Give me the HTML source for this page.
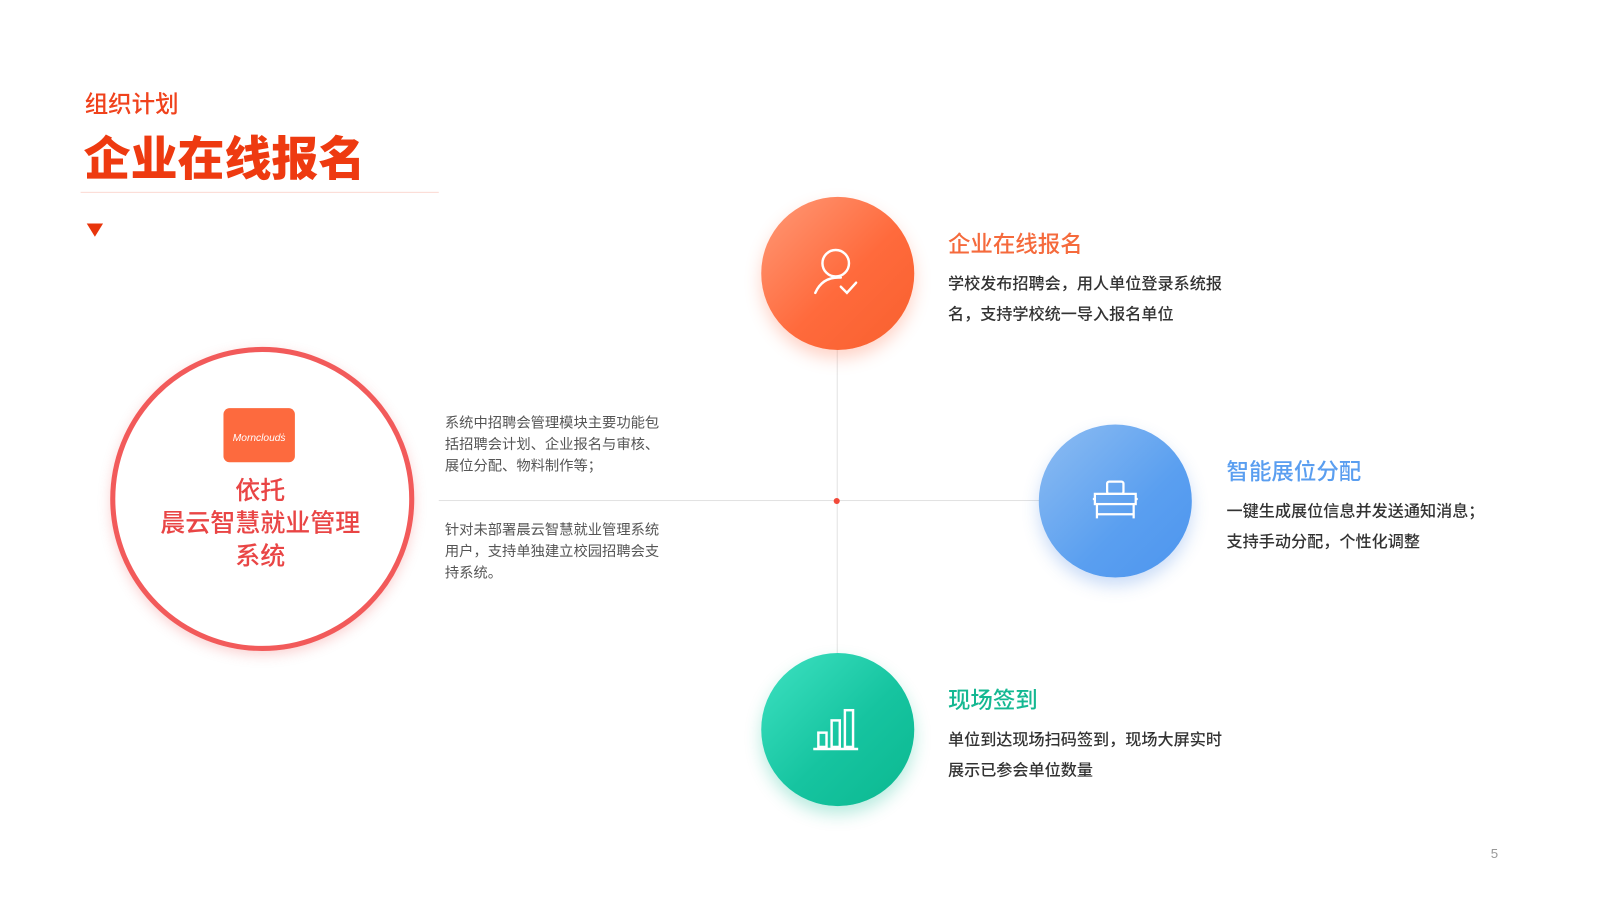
<!DOCTYPE html>
<html><head><meta charset="utf-8"><style>
body{margin:0;width:1600px;height:900px;background:#fff;position:relative;overflow:hidden;font-family:"Liberation Sans","Noto Sans CJK SC",sans-serif}
#w{position:absolute;left:0;top:0;width:1568px;height:882px;transform:scale(1.0204);transform-origin:0 0}
.a{position:absolute}
.c{position:absolute;width:150px;height:150px;border-radius:50%}
.t{position:absolute;font-size:22px;font-weight:500}
.d{position:absolute;font-size:15.8px;color:#333;line-height:30px;font-weight:500;white-space:nowrap}
.s{position:absolute;font-size:14px;color:#555;line-height:21px;width:216px}
</style></head><body><div id="w">
<div class="a" style="left:83px;top:83px;font-size:23px;color:#f0421c;font-weight:500">组织计划</div>
<div class="a" style="left:82px;top:120px;font-size:46px;font-weight:900;color:#ee3a10;letter-spacing:0px">企业在线报名</div>
<div class="a" style="left:79px;top:188px;width:351px;height:1px;background:#fbd9d2"></div>
<div class="a" style="left:85px;top:219px;width:0;height:0;border-left:8px solid transparent;border-right:8px solid transparent;border-top:13px solid #e8350c"></div>

<div class="a" style="left:430px;top:490px;width:590px;height:1px;background:#e2e2e2"></div>
<div class="a" style="left:820px;top:340px;width:1px;height:300px;background:#e2e2e2"></div>
<div class="a" style="left:817px;top:488px;width:6px;height:6px;border-radius:50%;background:#f24a3a"></div>

<div class="a" style="left:108px;top:340px;width:288px;height:288px;border-radius:50%;border:5px solid #f25a5a;box-shadow:0 4px 12px rgba(240,80,80,.25)"></div>
<div class="a" style="left:219px;top:400px;width:70px;height:53px;border-radius:6px;background:#fd6a3e;color:#fff;font-size:10px;font-style:italic;text-align:center;line-height:60px">Morncloudṡ</div>
<div class="a" style="left:135px;top:466px;width:240px;text-align:center;font-size:24.5px;line-height:32px;color:#e94545;font-weight:500">依托<br>晨云智慧就业管理<br>系统</div>

<div class="s" style="left:436px;top:404px">系统中招聘会管理模块主要功能包括招聘会计划、企业报名与审核、展位分配、物料制作等；</div>
<div class="s" style="left:436px;top:509px">针对未部署晨云智慧就业管理系统用户，支持单独建立校园招聘会支持系统。</div>

<div class="c" style="left:746px;top:193px;background:linear-gradient(135deg,#ff9a78,#ff6a3c 55%,#f8602e);box-shadow:0 8px 16px rgba(255,110,70,.3)">
<svg width="150" height="150"><g fill="none" stroke="#fff" stroke-width="2.4" stroke-linecap="round"><circle cx="73" cy="65" r="13"/><path d="M53 94 Q60 78 78 79"/><path d="M78 88 l6 6 l9 -10"/></g></svg></div>
<div class="t" style="left:929px;top:222px;color:#f56a3c">企业在线报名</div>
<div class="d" style="left:929px;top:264px">学校发布招聘会，用人单位登录系统报<br>名，支持学校统一导入报名单位</div>

<div class="c" style="left:1018px;top:416px;background:linear-gradient(135deg,#8ebdf2,#5a9ff0 60%,#4d95ee);box-shadow:0 8px 16px rgba(80,140,230,.3)">
<svg width="150" height="150"><g fill="none" stroke="#fff" stroke-width="2.2"><rect x="67" y="56" width="16" height="12" rx="2"/><rect x="55" y="68" width="40" height="10"/><path d="M55 73 h-2 M95 73 h2"/><path d="M57 78 v14 M93 78 v14 M57 88 h36"/></g></svg></div>
<div class="t" style="left:1202px;top:445px;color:#5a9ef0">智能展位分配</div>
<div class="d" style="left:1202px;top:487px">一键生成展位信息并发送通知消息；<br>支持手动分配，个性化调整</div>

<div class="c" style="left:746px;top:640px;background:linear-gradient(135deg,#3ee2c2,#16c4a0 55%,#0bb890);box-shadow:0 8px 16px rgba(20,190,150,.3)">
<svg width="150" height="150"><g fill="none" stroke="#fff" stroke-width="2.4"><rect x="56" y="78" width="8" height="14"/><rect x="69" y="66" width="8" height="26"/><rect x="82" y="56" width="8" height="36"/><path d="M51 94 h44"/></g></svg></div>
<div class="t" style="left:929px;top:669px;color:#15b892">现场签到</div>
<div class="d" style="left:929px;top:711px">单位到达现场扫码签到，现场大屏实时<br>展示已参会单位数量</div>

<div class="a" style="left:1461px;top:829px;font-size:13px;color:#999">5</div>
</div></body></html>
